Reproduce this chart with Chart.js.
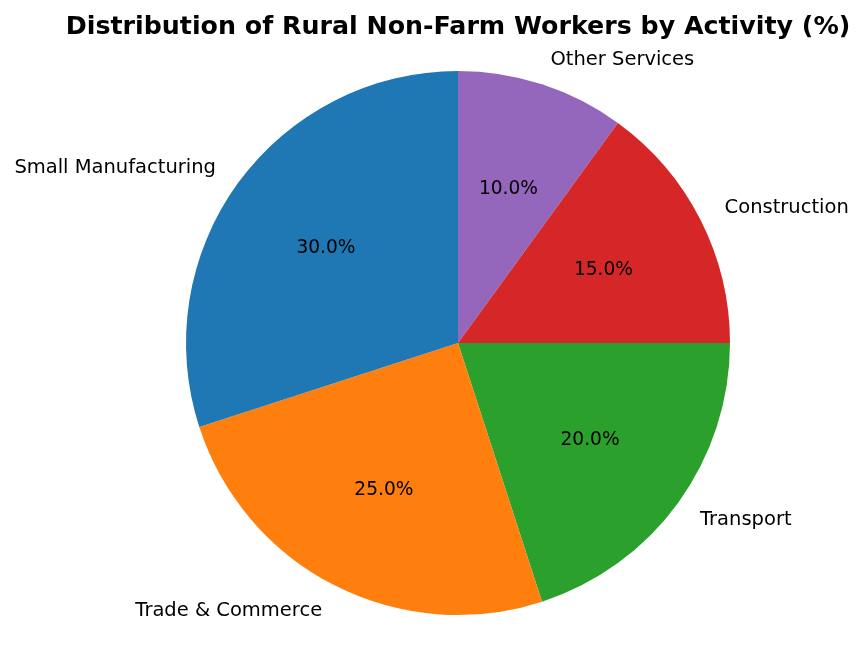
<!DOCTYPE html>
<html>
<head>
<meta charset="utf-8">
<script src="https://cdn.jsdelivr.net/npm/chart.js@4/dist/chart.umd.min.js"></script>
<style>
  html, body { margin: 0; padding: 0; background: #fff; }
  #wrap { width: 863px; height: 657px; }
</style>
</head>
<body>
<div id="wrap"><canvas id="pie" width="863" height="657"></canvas></div>
<script>
// values (matplotlib order, counter-clockwise from top)
var categories = ['Small Manufacturing', 'Trade & Commerce', 'Transport', 'Construction', 'Other Services'];
var shares = [30, 25, 20, 15, 10];
var colours = ['#1f77b4', '#ff7f0e', '#2ca02c', '#d62728', '#9467bd'];

var TITLE = 'Distribution of Rural Non-Farm Workers by Activity (%)';
var FONT = '"DejaVu Sans", "Liberation Sans", sans-serif';

// chart.js goes clockwise, so feed it reversed to get the same layout
var labels = categories.slice().reverse();
var values = shares.slice().reverse();
var bg = colours.slice().reverse();

var textPlugin = {
	id: 'pieText',
	afterDraw: function(chart){
		var ctx = chart.ctx;
		var meta = chart.getDatasetMeta(0);
		var total = values.reduce(function(a, b){ return a + b; }, 0);

		ctx.save();
		ctx.fillStyle = '#000';

		// title
		ctx.font = 'bold 25.3px ' + FONT;
		ctx.textAlign = 'center';
		ctx.textBaseline = 'alphabetic';
		ctx.fillText(TITLE, 458, 34);

		meta.data.forEach(function(arc, i){
			var p = arc.getProps(['x', 'y', 'startAngle', 'endAngle', 'outerRadius'], true);
			var mid = (p.startAngle + p.endAngle) / 2;
			var c = Math.cos(mid), s = Math.sin(mid);

			// category label outside
			ctx.font = '19.5px ' + FONT;
			ctx.textBaseline = 'middle';
			ctx.textAlign = c > 0 ? 'left' : 'right';
			ctx.fillText(labels[i], p.x + c * p.outerRadius * 1.1, p.y + s * p.outerRadius * 1.1 + 1);

			// percentage inside
			ctx.font = '18.6px ' + FONT;
			ctx.textAlign = 'center';
			ctx.fillText((values[i] / total * 100).toFixed(1) + '%', p.x + c * p.outerRadius * 0.6, p.y + s * p.outerRadius * 0.6 + 1.5);
		});
		ctx.restore();
	}
};

new Chart(document.getElementById('pie'), {
	type: 'pie',
	data: {
		labels: labels,
		datasets: [{
			data: values,
			backgroundColor: bg,
			borderWidth: 0,
			hoverOffset: 0
		}]
	},
	options: {
		responsive: false,
		animation: false,
		devicePixelRatio: 1,
		rotation: 0,
		layout: { padding: { left: 186, right: 133, top: 71, bottom: 42 } },
		plugins: {
			legend: { display: false },
			tooltip: { enabled: false },
			title: { display: false }
		}
	},
	plugins: [textPlugin]
});
</script>
</body>
</html>
